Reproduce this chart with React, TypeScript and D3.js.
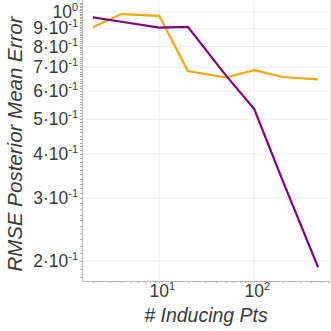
import React, { useEffect, useRef } from 'react';
import * as d3 from 'd3';

// number of inducing points (x) and the two error curves
const inducingPts = [2, 4, 10, 20, 50, 100, 200, 470];
const orangeErr = [0.907, 0.987, 0.976, 0.683, 0.655, 0.687, 0.657, 0.647];
const purpleErr = [0.966, 0.939, 0.904, 0.909, 0.665, 0.534, 0.335, 0.192];

const yMajor = [1, 0.9, 0.8, 0.7, 0.6, 0.5, 0.4, 0.3, 0.2];
const yMantissa = ['1', '9', '8', '7', '6', '5', '4', '3', '2'];
const yExp = ['0', '-1', '-1', '-1', '-1', '-1', '-1', '-1', '-1'];
const xMajor = [10, 100];
const xExp = ['1', '2'];

const App = () => {
    const svgRef = useRef<SVGSVGElement>(null);

    useEffect(() => {
        const width = 331;
        const height = 331;
        const left = 82, right = 330, top = 2, bottom = 281;
        const font = '"Liberation Sans", Arial, sans-serif';

        const svg = d3.select(svgRef.current);
        svg.selectAll('*').remove();

        const x = d3.scaleLog().domain([1.537, 627]).range([left, right]);
        const y = d3.scaleLog().domain([0.1757, 1.067]).range([bottom, top]);

        // grid
        svg.append('g').selectAll('line')
            .data(yMajor)
            .enter().append('line')
            .attr('x1', left).attr('x2', right)
            .attr('y1', d => y(d)).attr('y2', d => y(d))
            .attr('stroke', '#eeeeee').attr('stroke-width', 1);
        svg.append('g').selectAll('line')
            .data(xMajor)
            .enter().append('line')
            .attr('x1', d => x(d)).attr('x2', d => x(d))
            .attr('y1', top).attr('y2', bottom)
            .attr('stroke', '#eeeeee').attr('stroke-width', 1);
        svg.append('line')
            .attr('x1', right - 0.5).attr('x2', right - 0.5)
            .attr('y1', 0).attr('y2', bottom)
            .attr('stroke', '#f0f0f0');

        // minor ticks on y axis (every 0.01)
        const yMinor = d3.range(18, 107).map(v => v / 100);
        svg.append('g').selectAll('line')
            .data(yMinor)
            .enter().append('line')
            .attr('x1', left - 2).attr('x2', left)
            .attr('y1', d => Math.round(y(d)) + 0.5).attr('y2', d => Math.round(y(d)) + 0.5)
            .attr('stroke', '#aaa').attr('stroke-width', 1);

        // minor ticks on x axis
        const xMinor: number[] = [];
        [1, 10, 100].forEach(p => d3.range(1, 10).forEach(m => {
            const v = p * m;
            if (v > 1.537 && v < 627) xMinor.push(v);
        }));
        svg.append('g').selectAll('line')
            .data(xMinor)
            .enter().append('line')
            .attr('x1', d => Math.round(x(d)) + 0.5).attr('x2', d => Math.round(x(d)) + 0.5)
            .attr('y1', bottom).attr('y2', bottom + 2)
            .attr('stroke', '#aaa').attr('stroke-width', 1);

        // axis lines
        svg.append('line')
            .attr('x1', left + 0.5).attr('x2', left + 0.5)
            .attr('y1', 0).attr('y2', bottom + 0.5)
            .attr('stroke', '#b5b5b5');
        svg.append('line')
            .attr('x1', left).attr('x2', right)
            .attr('y1', bottom + 0.5).attr('y2', bottom + 0.5)
            .attr('stroke', '#b5b5b5');

        // y tick labels
        const yl = svg.append('g').selectAll('text')
            .data(yMajor)
            .enter().append('text')
            .attr('x', 78)
            .attr('y', d => y(d) + 6)
            .attr('text-anchor', 'end')
            .attr('font-family', font)
            .attr('font-size', 17.5)
            .attr('fill', '#3a3a3a');
        yl.append('tspan').text((d, i) => i === 0 ? '10' : `${yMantissa[i]}\u00b710`);
        yl.append('tspan')
            .attr('dy', -7)
            .attr('font-size', 11)
            .text((d, i) => yExp[i]);

        // x tick labels
        const xl = svg.append('g').selectAll('text')
            .data(xMajor)
            .enter().append('text')
            .attr('x', d => x(d) + 3)
            .attr('y', 297)
            .attr('text-anchor', 'middle')
            .attr('font-family', font)
            .attr('font-size', 17.5)
            .attr('fill', '#3a3a3a');
        xl.append('tspan').text('10');
        xl.append('tspan')
            .attr('dy', -7)
            .attr('font-size', 11)
            .text((d, i) => xExp[i]);

        // axis titles
        svg.append('text')
            .attr('transform', `translate(22,144) rotate(-90)`)
            .attr('text-anchor', 'middle')
            .attr('font-family', font)
            .attr('font-style', 'italic')
            .attr('font-size', 20.5)
            .attr('fill', '#3a3a3a')
            .text('RMSE Posterior Mean Error');
        svg.append('text')
            .attr('x', (left + right) / 2)
            .attr('y', 322)
            .attr('text-anchor', 'middle')
            .attr('font-family', font)
            .attr('font-style', 'italic')
            .attr('font-size', 19.5)
            .attr('fill', '#3a3a3a')
            .text('# Inducing Pts');

        // lines
        const line = d3.line<number>()
            .x((d, i) => x(inducingPts[i]))
            .y(d => y(d));
        svg.append('path')
            .attr('d', line(orangeErr))
            .attr('fill', 'none')
            .attr('stroke', '#ffa500')
            .attr('stroke-width', 2.2);
        svg.append('path')
            .attr('d', line(purpleErr))
            .attr('fill', 'none')
            .attr('stroke', '#800080')
            .attr('stroke-width', 2.2);

        svg.attr('width', width).attr('height', height);
    }, []);

    return (
        <svg ref={svgRef} width={331} height={331}
            style={{ position: 'absolute', left: 0, top: 0, background: '#fff' }} />
    );
};

export default App;
